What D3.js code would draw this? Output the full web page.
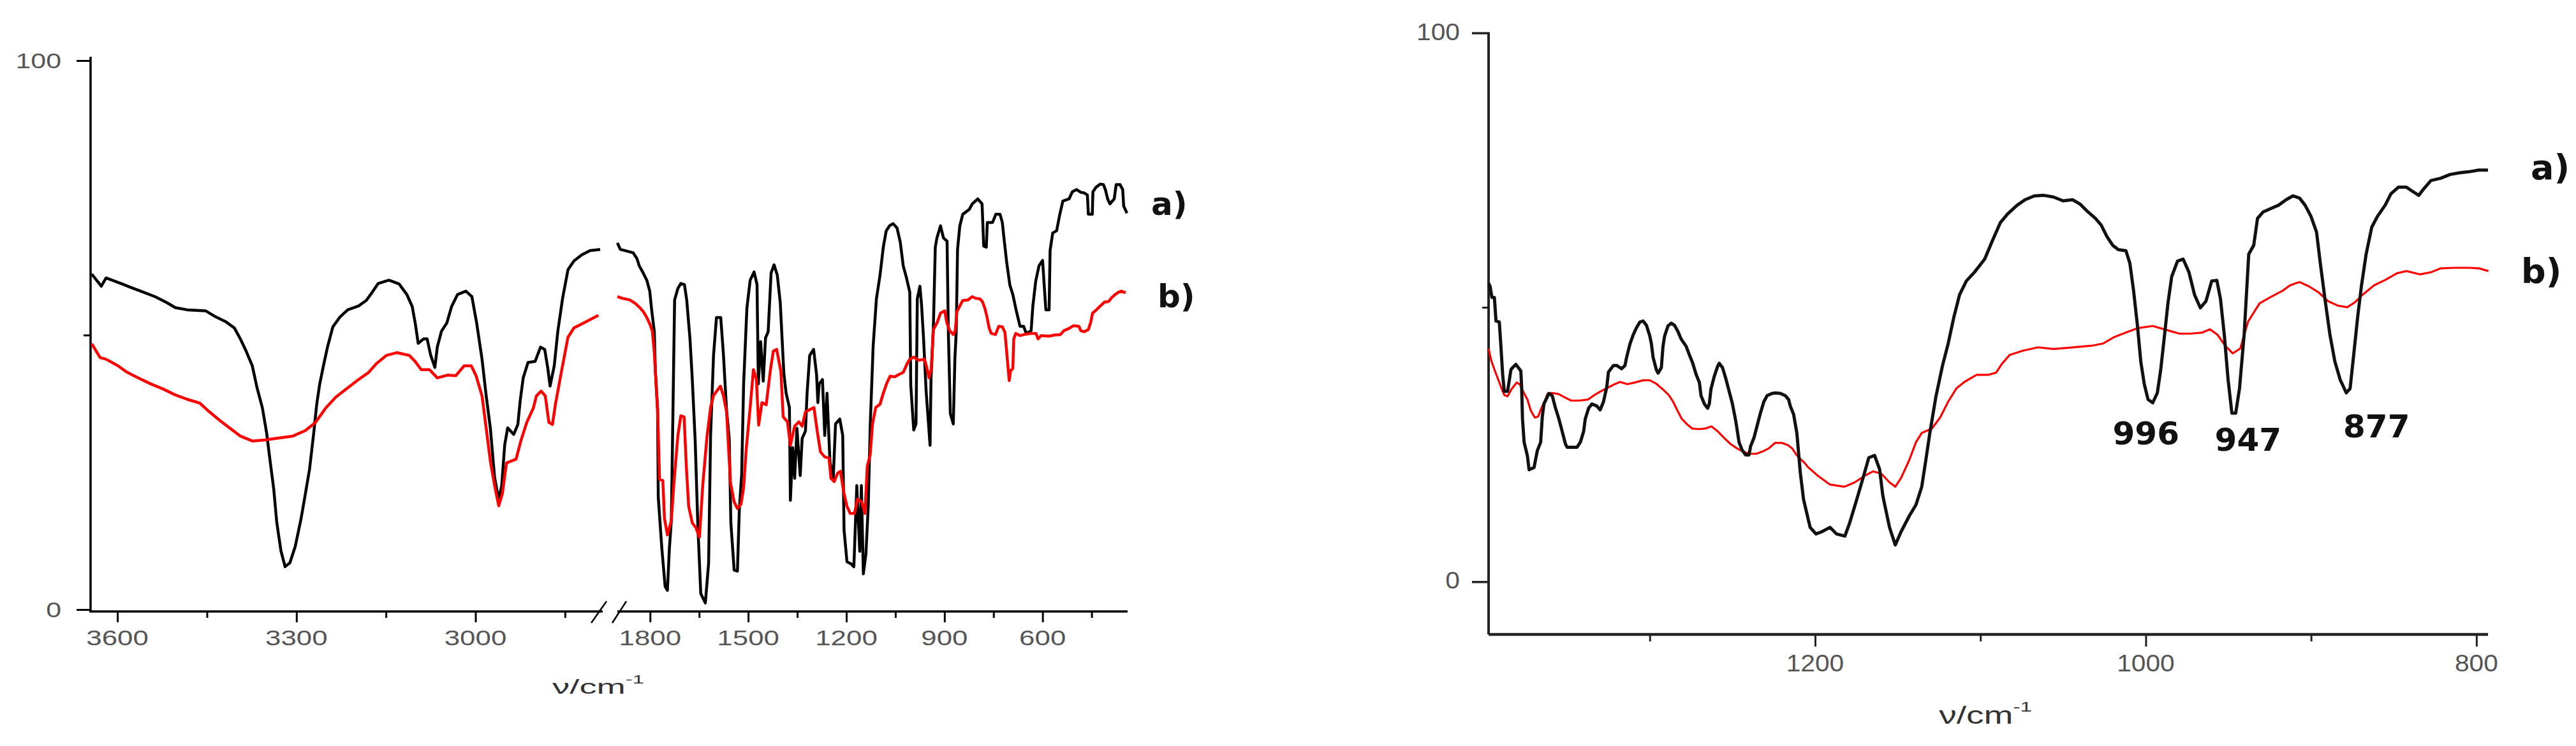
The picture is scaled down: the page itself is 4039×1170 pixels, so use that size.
<!DOCTYPE html>
<html>
<head>
<meta charset="utf-8">
<script src="https://cdn.jsdelivr.net/npm/d3@7"></script>
<style>
  body { margin: 0; background: #fff; }
  svg { display: block; }
</style>
</head>
<body>
<svg id="chart" width="4039" height="1170"></svg>
<script>
// ---- data: [wavenumber, transmittance] ----
// left panel, high wavenumber part (before the axis break)
var leftHighA = [[3643,61.1],[3627,58.9],[3619,60.4],[3592,59.3],[3578,58.7],[3561,58.0],[3537,57.0],[3517,55.9],[3503,55.0],[3483,54.6],[3452,54.4],[3435,53.3],[3418,52.4],[3404,51.3],[3394,49.3],[3384,47.0],[3374,44.4],[3366,40.4],[3357,36.7],[3350,32.2],[3345,27.8],[3338,21.9],[3333,15.9],[3326,10.7],[3319,7.8],[3311,8.5],[3302,11.5],[3292,16.7],[3285,21.1],[3278,25.6],[3271,32.2],[3266,37.4],[3261,41.1],[3254,44.8],[3248,47.8],[3239,51.5],[3227,53.3],[3214,54.6],[3196,55.3],[3183,56.3],[3173,57.8],[3163,59.4],[3145,60.0],[3128,59.3],[3115,57.4],[3106,55.2],[3101,52.2],[3096,48.5],[3087,49.3],[3081,49.3],[3075,46.3],[3068,44.1],[3064,47.8],[3057,50.7],[3048,52.2],[3040,55.2],[3030,57.4],[3016,58.0],[3006,57.0],[2998,52.2],[2989,45.6],[2982,38.9],[2975,33.0],[2968,24.1],[2961,20.0],[2956,22.6],[2951,30.0],[2946,33.1],[2936,31.9],[2929,33.7],[2925,38.1],[2920,42.2],[2912,45.0],[2900,45.2],[2891,47.8],[2884,47.4],[2879,44.1],[2875,40.7],[2868,44.4],[2862,50.7],[2854,56.7],[2845,61.9],[2835,63.5],[2822,64.6],[2808,65.4],[2791,65.6]];
var leftHighB = [[3643,48.4],[3629,45.9],[3619,45.6],[3599,44.4],[3585,43.3],[3565,42.2],[3544,41.1],[3524,40.2],[3503,39.1],[3483,38.3],[3462,37.6],[3449,36.3],[3428,34.4],[3411,33.0],[3394,31.6],[3374,30.7],[3353,30.9],[3326,31.3],[3306,31.6],[3285,32.6],[3268,34.1],[3251,36.7],[3234,38.7],[3214,40.4],[3196,41.9],[3179,43.2],[3166,44.8],[3149,46.3],[3132,46.8],[3111,46.3],[3101,45.2],[3091,43.7],[3077,43.7],[3064,42.2],[3047,42.7],[3033,42.6],[3019,44.4],[3007,44.4],[2999,42.6],[2989,38.9],[2982,33.0],[2975,27.0],[2968,22.6],[2961,18.9],[2955,21.1],[2948,26.7],[2932,27.4],[2924,30.7],[2914,34.1],[2903,36.7],[2898,38.9],[2890,39.8],[2883,38.9],[2877,34.1],[2871,33.7],[2866,37.4],[2856,43.3],[2845,49.6],[2835,51.3],[2815,52.4],[2794,53.6]];

// left panel, low wavenumber part (after the axis break)
var leftLowA = [[1900,66.8],[1891,65.6],[1852,65.0],[1840,63.9],[1833,62.6],[1821,61.3],[1810,60.0],[1801,58.0],[1795,54.5],[1787,50.6],[1784,43.7],[1777,36.4],[1775,20.5],[1764,11.1],[1754,4.2],[1747,3.5],[1741,11.1],[1735,16.2],[1730,36.4],[1725,56.4],[1715,58.5],[1706,59.4],[1695,59.2],[1688,56.4],[1678,49.3],[1671,42.0],[1662,30.6],[1654,15.3],[1645,2.9],[1631,1.2],[1621,8.5],[1615,31.7],[1606,46.3],[1597,53.2],[1584,53.2],[1576,46.7],[1566,36.2],[1558,31.2],[1553,15.8],[1543,7.2],[1533,7.0],[1527,18.4],[1520,24.6],[1514,41.1],[1504,54.9],[1494,60.0],[1482,61.5],[1473,59.2],[1469,41.1],[1462,48.8],[1454,41.6],[1447,49.5],[1439,50.6],[1430,61.3],[1421,62.8],[1411,60.9],[1402,55.9],[1391,43.0],[1384,39.4],[1374,36.8],[1371,19.9],[1364,29.5],[1358,23.9],[1351,33.0],[1341,24.4],[1335,31.2],[1325,32.5],[1320,39.4],[1312,46.3],[1300,47.4],[1291,42.8],[1287,37.7],[1283,41.1],[1273,41.9],[1266,31.7],[1259,39.4],[1250,26.9],[1240,23.9],[1233,33.8],[1220,34.7],[1211,31.7],[1207,14.5],[1198,8.7],[1185,8.3],[1177,7.8],[1174,12.6],[1168,22.6],[1159,10.6],[1154,22.6],[1148,6.5],[1140,10.2],[1133,18.8],[1127,33.4],[1118,48.0],[1108,56.6],[1097,60.9],[1087,66.0],[1078,69.0],[1068,69.9],[1057,70.3],[1045,69.5],[1035,66.9],[1026,62.6],[1016,60.4],[1006,57.8],[1003,40.9],[994,32.7],[987,33.8],[983,56.6],[975,58.9],[970,55.5],[964,49.5],[956,39.8],[944,29.9],[941,42.2],[934,51.2],[928,66.0],[923,67.7],[912,69.9],[903,67.7],[892,67.1],[888,50.3],[882,35.7],[873,33.8],[868,45.8],[864,50.5],[860,65.6],[853,69.9],[844,72.0],[824,72.9],[815,73.9],[798,74.8],[785,73.9],[780,66.2],[772,66.0],[769,70.5],[753,70.5],[743,72.0],[730,72.0],[723,70.5],[719,68.2],[710,63.4],[700,59.1],[691,57.4],[681,54.6],[669,51.6],[658,51.6],[650,50.3],[635,50.8],[630,55.1],[621,59.8],[611,62.6],[600,63.6],[590,54.6],[580,54.6],[577,65.4],[569,68.6],[557,69.0],[548,71.8],[538,74.4],[519,74.8],[509,76.1],[496,76.5],[483,76.0],[473,75.9],[463,75.5],[460,72.0],[448,72.0],[446,76.1],[437,76.9],[424,77.5],[414,77.4],[408,76.5],[401,74.8],[394,73.9],[381,74.8],[375,77.4],[363,77.4],[355,76.5],[352,73.5],[342,72.2]];
var leftLowB = [[1900,57.0],[1885,56.7],[1862,56.4],[1846,55.8],[1833,55.1],[1820,54.2],[1810,53.2],[1800,51.9],[1793,50.7],[1787,46.7],[1777,36.4],[1771,23.7],[1761,23.5],[1756,16.6],[1747,13.6],[1735,16.2],[1727,23.1],[1715,31.7],[1706,35.3],[1696,35.1],[1689,25.9],[1682,18.8],[1671,15.8],[1660,14.9],[1649,13.2],[1639,22.6],[1626,31.5],[1615,36.8],[1606,39.0],[1585,40.7],[1576,39.0],[1566,36.0],[1561,30.4],[1554,23.1],[1543,19.6],[1533,18.4],[1522,19.2],[1514,22.2],[1506,29.3],[1494,36.8],[1484,43.7],[1475,42.0],[1468,33.6],[1458,37.7],[1445,37.3],[1432,43.7],[1423,47.1],[1413,47.4],[1400,43.3],[1393,35.1],[1380,34.2],[1371,29.9],[1358,33.4],[1345,34.2],[1335,33.4],[1325,36.0],[1312,36.4],[1299,36.8],[1289,32.5],[1279,28.7],[1266,27.8],[1253,27.6],[1247,23.9],[1237,23.3],[1227,24.8],[1218,25.2],[1208,21.4],[1198,18.8],[1188,17.5],[1175,17.5],[1166,20.1],[1153,19.6],[1143,17.5],[1136,26.1],[1127,28.2],[1120,33.8],[1110,36.8],[1097,37.4],[1087,39.4],[1076,41.3],[1066,42.5],[1052,42.4],[1040,42.8],[1026,43.2],[1014,44.8],[1006,45.6],[993,46.0],[980,45.4],[961,45.6],[955,44.3],[947,42.2],[940,43.9],[934,51.0],[922,52.3],[912,54.0],[899,54.4],[893,52.3],[884,50.8],[873,50.1],[867,50.8],[862,54.2],[853,55.3],[844,56.3],[828,56.4],[815,57.0],[805,56.7],[792,56.6],[784,56.1],[776,54.8],[770,53.3],[763,51.2],[757,50.3],[744,50.1],[734,51.6],[723,51.5],[715,50.5],[711,47.8],[702,41.7],[698,43.5],[691,43.9],[688,49.3],[682,50.3],[669,49.9],[656,50.1],[637,50.3],[620,50.3],[614,49.3],[604,49.9],[581,49.8],[564,50.0],[545,50.1],[535,50.8],[519,51.2],[506,51.7],[489,51.6],[483,50.8],[473,50.6],[460,51.0],[453,52.3],[447,54.0],[437,54.5],[427,55.1],[418,55.6],[411,56.0],[398,56.1],[389,56.8],[378,57.4],[368,57.8],[359,58.0],[346,57.7]];

// right panel, 1400-800 cm-1
var rightA = [[1397.5,54.4],[1396.5,53.7],[1395.5,51.8],[1394,51.8],[1393,47.5],[1391,47.3],[1390,42.7],[1389,37.8],[1388,34.7],[1386,34.7],[1384,38.6],[1383,39.0],[1381,39.6],[1378,38.4],[1377.5,35.5],[1377,29.7],[1376,25.4],[1374,22.9],[1373,20.4],[1370,20.8],[1368,23.9],[1366,25.4],[1365,30.1],[1364,32.4],[1361,34.3],[1359,33.9],[1357,31.6],[1355,29.7],[1353,27.4],[1351,25.1],[1350,24.5],[1344,24.5],[1342,25.4],[1340,27.4],[1339,29.7],[1337,31.6],[1335,32.4],[1332,32.0],[1330,31.3],[1328,32.8],[1326,35.5],[1325,38.2],[1322,39.4],[1320,39.4],[1317,38.8],[1315,39.4],[1314,40.9],[1312,43.3],[1310,45.0],[1308,46.3],[1306,47.3],[1304,47.5],[1302,46.7],[1300,44.8],[1299,43.3],[1298,40.9],[1296,38.6],[1295,38.0],[1293,39.0],[1292,42.9],[1291,44.8],[1289,46.6],[1287,47.1],[1285,46.7],[1283,45.6],[1281,44.2],[1278,42.9],[1276,41.3],[1274,39.8],[1272,37.8],[1270,36.3],[1269,33.9],[1267,32.4],[1265,31.6],[1264,32.4],[1263,35.1],[1261,37.4],[1259,39.2],[1258,39.8],[1256,39.0],[1254,37.0],[1252,34.7],[1250,32.4],[1248,29.3],[1246,25.4],[1244,23.9],[1242,23.1],[1240,23.1],[1239,24.7],[1237,26.2],[1235,28.5],[1233,30.8],[1231,32.8],[1229,33.9],[1226,34.3],[1224,34.4],[1221,34.3],[1218,33.9],[1216,33.2],[1215,32.0],[1213,30.5],[1211,27.0],[1209,20.0],[1207,15.0],[1203,9.9],[1199.5,8.7],[1196,9.1],[1191,9.9],[1187,8.7],[1182,8.3],[1179,10.8],[1175,14.8],[1171,18.9],[1167.5,22.6],[1164,23.0],[1161,20.5],[1159,15.6],[1155,9.9],[1151.5,6.7],[1148,9.1],[1143,12.0],[1139,14.0],[1135.5,17.3],[1133,22.2],[1130.6,27.1],[1127,33.6],[1123,39.3],[1119.5,43.4],[1116,48.3],[1112.6,52.3],[1108.5,54.8],[1103.6,56.4],[1097.4,58.8],[1092.8,62.1],[1088,65.4],[1083.6,67.0],[1077.8,68.6],[1073,69.6],[1067.4,70.3],[1061.6,70.4],[1055.8,70.1],[1050,69.4],[1044.3,69.6],[1039.7,68.8],[1035,67.4],[1030.4,66.2],[1027,65.0],[1023.5,62.9],[1020,61.3],[1016.6,60.5],[1012,60.3],[1009.6,58.0],[1007.4,53.1],[1005,46.6],[1003,40.1],[1000.9,36.0],[998.6,33.2],[995.8,32.6],[993,34.4],[991,38.5],[988.9,44.2],[986.6,50.7],[984.3,55.6],[980.8,58.4],[977.4,58.8],[973.9,56.4],[970.5,52.3],[967,49.9],[963.6,51.1],[960.1,54.8],[957,54.9],[954.8,51.5],[952.5,45.0],[950.2,36.8],[947.9,30.7],[945.6,30.7],[943.3,35.2],[940.5,45.0],[937.7,59.7],[934.7,61.3],[932.4,66.2],[928.9,67.4],[924.3,68.0],[919.7,68.6],[915.1,69.6],[911,70.3],[907,69.9],[903.6,68.6],[900.1,66.6],[896.7,63.7],[894.4,58.0],[891.6,51.5],[888.6,45.0],[885.6,40.1],[882.4,36.8],[878.7,34.4],[876.4,35.2],[874.1,41.7],[871.8,48.3],[869.5,54.0],[866.7,59.7],[863.3,64.6],[859.8,66.6],[855.2,68.6],[851.7,70.7],[847.1,71.9],[842.5,71.9],[839,71.2],[834.9,70.4],[832.1,71.5],[827.5,73.1],[821.7,73.5],[815.9,74.2],[810.2,74.5],[804.4,74.7],[798.6,75.0],[793,75.0]];
var rightB = [[1397.5,42.5],[1395.8,40.2],[1393.9,38.6],[1392,37.1],[1390,35.5],[1388,34.0],[1386,33.8],[1383.6,35.1],[1380.4,36.3],[1378.5,35.9],[1376,34.3],[1374,33.2],[1372,31.2],[1369.5,29.9],[1367.5,30.1],[1365.6,31.6],[1363.7,32.8],[1361.7,34.3],[1359.2,34.4],[1355.3,34.2],[1351.5,33.6],[1347.6,33.0],[1342.5,33.0],[1337.3,33.2],[1333.5,34.0],[1329.6,34.7],[1325.7,35.3],[1321.9,35.9],[1318,36.4],[1313.5,36.0],[1309,36.3],[1303.9,36.7],[1300,36.7],[1296.2,36.1],[1292.3,35.1],[1288.5,34.0],[1285.9,32.8],[1283.3,31.2],[1280.7,29.7],[1277.5,28.7],[1274.3,27.9],[1270.5,27.8],[1266.6,27.9],[1262.7,28.3],[1258.9,27.4],[1255,26.2],[1251.2,25.1],[1247.3,24.3],[1243.5,23.7],[1239.6,23.3],[1235.7,23.3],[1231.9,23.7],[1228,24.3],[1224.2,25.3],[1220.3,25.3],[1216.5,24.9],[1213.9,24.3],[1211.3,23.1],[1208.7,22.3],[1206.2,21.6],[1204.4,20.9],[1198.3,19.3],[1191,17.7],[1182.3,17.3],[1176,18.1],[1170,19.3],[1165,20.1],[1160,19.7],[1155,18.1],[1151.5,17.3],[1148,18.9],[1143,22.2],[1139,25.4],[1135.5,27.1],[1129.4,27.9],[1124.4,29.9],[1119.5,32.8],[1114.6,35.2],[1109.7,36.4],[1102.3,37.7],[1095,37.7],[1090.5,38.1],[1087,39.7],[1082.4,41.3],[1074.3,42.1],[1065.1,42.7],[1055.8,42.4],[1044.3,42.7],[1032.7,43.0],[1025.8,43.4],[1018.9,44.6],[1012,45.4],[1005,46.2],[995.8,46.6],[986.6,45.8],[979.7,45.2],[972.8,45.2],[965.8,45.4],[961.2,46.0],[956.6,45.0],[952,43.0],[947.4,41.6],[942.8,42.5],[938.1,47.4],[931.2,50.7],[924.3,51.9],[917.3,53.0],[912.7,54.0],[907,54.6],[901.2,53.8],[895.4,52.7],[889.6,51.1],[883.8,50.3],[878.1,50.0],[873.5,50.9],[868.8,52.3],[861.9,54.0],[855,55.0],[848.1,56.2],[842.3,56.6],[834.2,56.0],[827.3,56.4],[821.5,57.1],[813.4,57.2],[804.2,57.2],[798.4,57.1],[792.7,56.6]];

// ticks and labels
var leftHighMajor = [3600, 3300, 3000], leftHighMinor = [3450, 3150, 2850];
var leftLowMajor = [1800, 1500, 1200, 900, 600], leftLowMinor = [1650, 1350, 1050, 750, 450];
var rightMajor = [1200, 1000, 800], rightMinor = [1300, 1100, 900];
var yMajor = [0, 100], yMinor = [50];
var seriesLabels = ["a)", "b)"];
var peakLabels = ["996", "947", "877"];
var peakWavenumbers = [996, 947, 877];

// ---- layout ----
var svg = d3.select("svg#chart");
var tickFont = "'Liberation Sans', Arial, sans-serif";
var boldFont = "'DejaVu Sans', Verdana, sans-serif";

var xHigh = d3.scaleLinear().domain([3645, 2790]).range([142, 942]),
  xLow = d3.scaleLinear().domain([1900, 342]).range([968, 1767]),
  yLeft = d3.scaleLinear().domain([0, 100]).range([956, 95]);
var xRight = d3.scaleLinear().domain([1397.5, 793]).range([2334, 3901]),
  yRight = d3.scaleLinear().domain([0, 100]).range([912.3, 51.6]);

function drawLine(data, x, y, color, width) {
  var line = d3.line()
    .x(function(d) { return x(d[0]); })
    .y(function(d) { return y(d[1]); });
  svg.append("path")
    .datum(data)
    .attr("fill", "none")
    .attr("stroke", color)
    .attr("stroke-width", width)
    .attr("stroke-linejoin", "round")
    .attr("d", line);
}

function tickMarks(axis, at, values, size, color, width) {
  var g = svg.append("g").attr("transform", at)
    .call(axis.tickValues(values).tickSize(size).tickSizeOuter(0).tickFormat(""));
  g.select(".domain").remove();
  g.selectAll(".tick line").attr("stroke", color).attr("stroke-width", width);
}

function xLabels(values, x, baseline, size, sx) {
  svg.append("g").selectAll("text")
    .data(values)
    .enter().append("text")
    .attr("transform", function(d) { return "translate(" + x(d) + "," + baseline + ") scale(" + sx + ",1)"; })
    .attr("text-anchor", "middle")
    .style("font", size + "px " + tickFont)
    .style("fill", "#555")
    .text(function(d) { return d; });
}

function yLabels(values, y, right, dy, size, sx) {
  svg.append("g").selectAll("text")
    .data(values)
    .enter().append("text")
    .attr("transform", function(d) { return "translate(" + right + "," + (y(d) + dy) + ") scale(" + sx + ",1)"; })
    .attr("text-anchor", "end")
    .style("font", size + "px " + tickFont)
    .style("fill", "#555")
    .text(function(d) { return d; });
}

function axisTitle(cx, baseline, size, sx) {
  var t = svg.append("text")
    .attr("transform", "translate(" + cx + "," + baseline + ") scale(" + sx + ",1)")
    .attr("text-anchor", "middle")
    .style("font", size + "px " + tickFont)
    .style("fill", "#333");
  t.append("tspan").text("\u03bd/cm");
  t.append("tspan").attr("dy", -size * 0.5).style("font-size", (size * 0.6) + "px").text("-1");
}

// ---- left panel ----
var leftAxisY = 959;
svg.append("line").attr("x1", xHigh.range()[0]).attr("x2", xHigh.range()[0])
  .attr("y1", yLeft(100) - 6).attr("y2", leftAxisY)
  .attr("stroke", "#000").attr("stroke-width", 3.5);
svg.append("line").attr("x1", xHigh.range()[0] - 2).attr("x2", xHigh.range()[1] + 3)
  .attr("y1", leftAxisY).attr("y2", leftAxisY)
  .attr("stroke", "#000").attr("stroke-width", 3.5);
svg.append("line").attr("x1", xLow.range()[0]).attr("x2", xLow.range()[1] + 1)
  .attr("y1", leftAxisY).attr("y2", leftAxisY)
  .attr("stroke", "#000").attr("stroke-width", 3.5);

// axis break marks
[[-15, 9], [18, 40]].forEach(function(o) {
  svg.append("line")
    .attr("x1", xHigh.range()[1] + o[0]).attr("y1", leftAxisY + 18)
    .attr("x2", xHigh.range()[1] + o[1]).attr("y2", leftAxisY - 16)
    .attr("stroke", "#000").attr("stroke-width", 2.5);
});

tickMarks(d3.axisBottom(xHigh), "translate(0," + leftAxisY + ")", leftHighMajor, 17, "#000", 3);
tickMarks(d3.axisBottom(xHigh), "translate(0," + leftAxisY + ")", leftHighMinor, 10, "#000", 3);
tickMarks(d3.axisBottom(xLow), "translate(0," + leftAxisY + ")", leftLowMajor, 17, "#000", 3);
tickMarks(d3.axisBottom(xLow), "translate(0," + leftAxisY + ")", leftLowMinor, 10, "#000", 3);
tickMarks(d3.axisLeft(yLeft), "translate(" + xHigh.range()[0] + ",0)", yMajor, 22, "#000", 3);
tickMarks(d3.axisLeft(yLeft), "translate(" + xHigh.range()[0] + ",0)", yMinor, 11, "#000", 3);

xLabels(leftHighMajor, xHigh, 1012, 33, 1.33);
xLabels(leftLowMajor, xLow, 1012, 33, 1.33);
yLabels(yMajor, yLeft, 96, 12, 33, 1.3);
axisTitle(938, 1088, 32, 1.7);

drawLine(leftHighA, xHigh, yLeft, "#000", 4.5);
drawLine(leftHighB, xHigh, yLeft, "#ff0000", 4.5);
drawLine(leftLowA, xLow, yLeft, "#000", 4.5);
drawLine(leftLowB, xLow, yLeft, "#ff0000", 4.5);

svg.append("text").attr("x", 1805).attr("y", 337)
  .style("font", "bold 50px " + boldFont).style("fill", "#111").text(seriesLabels[0]);
svg.append("text").attr("x", 1815).attr("y", 482)
  .style("font", "bold 50px " + boldFont).style("fill", "#111").text(seriesLabels[1]);

// ---- right panel ----
var rightAxisY = 995;
svg.append("line").attr("x1", xRight.range()[0]).attr("x2", xRight.range()[0])
  .attr("y1", yRight(100) - 1).attr("y2", rightAxisY)
  .attr("stroke", "#222").attr("stroke-width", 4);
svg.append("line").attr("x1", xRight.range()[0]).attr("x2", xRight.range()[1])
  .attr("y1", rightAxisY).attr("y2", rightAxisY)
  .attr("stroke", "#222").attr("stroke-width", 4.5);

tickMarks(d3.axisBottom(xRight), "translate(0," + rightAxisY + ")", rightMajor, 19, "#222", 3);
tickMarks(d3.axisBottom(xRight), "translate(0," + rightAxisY + ")", rightMinor, 11, "#222", 3);
tickMarks(d3.axisLeft(yRight), "translate(" + xRight.range()[0] + ",0)", yMajor, 26, "#222", 3.5);
tickMarks(d3.axisLeft(yRight), "translate(" + xRight.range()[0] + ",0)", yMinor, 10, "#222", 3);

xLabels(rightMajor, xRight, 1053, 37, 1.1);
yLabels(yMajor, yRight, 2289, 11, 37, 1.1);
axisTitle(3113, 1135, 38, 1.45);

drawLine(rightB, xRight, yRight, "#ff0000", 3.2);
drawLine(rightA, xRight, yRight, "#111", 5);

svg.append("text").attr("x", 3968).attr("y", 281)
  .style("font", "bold 54px " + boldFont).style("fill", "#111").text(seriesLabels[0]);
svg.append("text").attr("x", 3953).attr("y", 444)
  .style("font", "bold 54px " + boldFont).style("fill", "#111").text(seriesLabels[1]);

// peak annotations under the band minima of a)
var peakOffsets = [[-10, 697], [23, 707], [43, 686]];
svg.append("g").selectAll("text")
  .data(peakLabels)
  .enter().append("text")
  .attr("x", function(d, i) { return xRight(peakWavenumbers[i]) + peakOffsets[i][0]; })
  .attr("y", function(d, i) { return peakOffsets[i][1]; })
  .attr("text-anchor", "middle")
  .style("font", "bold 50px " + boldFont)
  .style("fill", "#111")
  .text(function(d) { return d; });
</script>
</body>
</html>
